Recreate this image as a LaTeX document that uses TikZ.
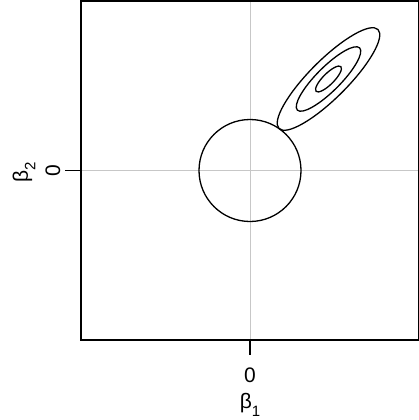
\documentclass[tikz,border=0pt]{standalone}
\usepackage{fontspec}
\setmainfont{Liberation Sans}
\tikzset{
  axisline/.style={line width=1.2pt, black},
  gridline/.style={line width=0.9pt, black!22},
  contour/.style={line width=1.3pt, black},
  ticklab/.style={font=\fontsize{21}{21}\selectfont, inner sep=0pt},
}
\begin{document}
\begin{tikzpicture}[x=1pt,y=-1pt]
\useasboundingbox (0,0) rectangle (419,420);
% grid lines
\coordinate (vt) at (250,1);
\coordinate (vb) at (250,340);
\coordinate (hl) at (81,170.5);
\coordinate (hr) at (418.5,170.5);
\draw[gridline] (vt) -- (vb);
\draw[gridline] (hl) -- (hr);
% box
\draw[axisline] (81,1) rectangle (418.7,340);
% ticks
\coordinate (tx) at (250,355);
\coordinate (ty) at (65,170.5);
\draw[axisline] (vb) -- (tx);
\draw[axisline] (hl) -- (ty);
% labels
\node[ticklab] (x0) at (250,375) {0};
\node[ticklab] (xlab) at (250,405) {β\raisebox{-0.35em}{\fontsize{15}{15}\selectfont 1}};
\node[ticklab, rotate=90] (y0) at (53,170.5) {0};
\node[ticklab, rotate=90] (ylab) at (24,172) {β\raisebox{-0.35em}{\fontsize{15}{15}\selectfont 2}};
% constraint circle
\node[draw, contour, circle, minimum size=102pt, inner sep=0pt] (ball) at (250,170.5) {};
% contours
\coordinate (ctr) at (328.5,79);
\draw[contour, rotate around={45:(ctr)}] (ctr) ellipse [x radius=70, y radius=19];
\draw[contour, rotate around={45:(ctr)}] (ctr) ellipse [x radius=44, y radius=12];
\draw[contour, rotate around={45:(ctr)}] (ctr) ellipse [x radius=17.5, y radius=5.5];
\end{tikzpicture}
\end{document}
